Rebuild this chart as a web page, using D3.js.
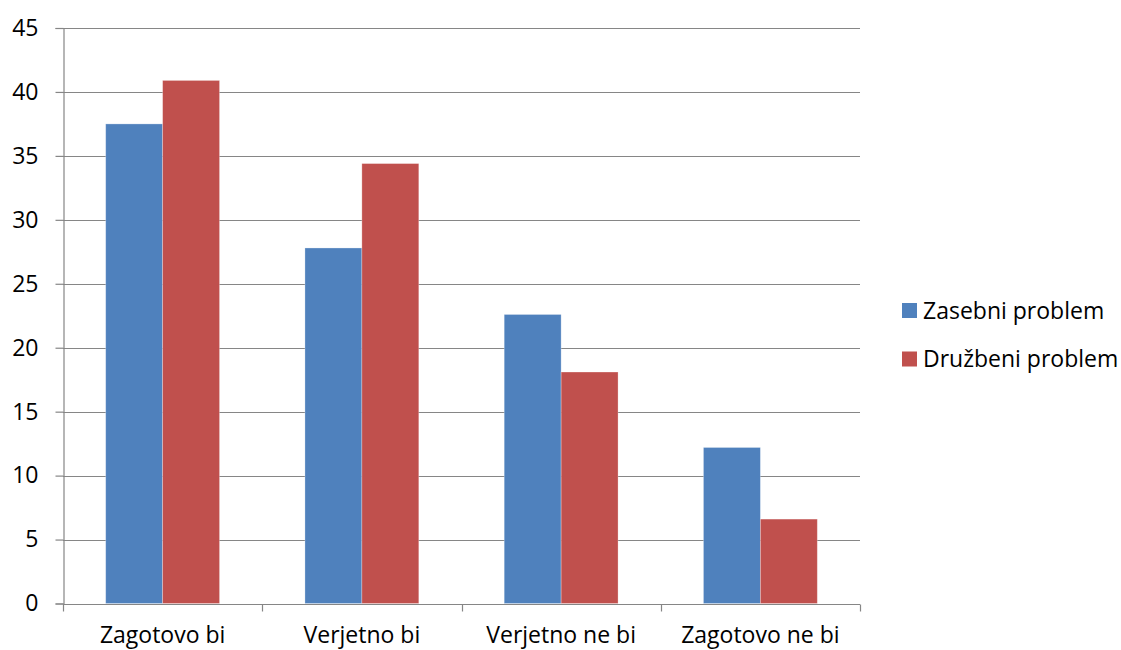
<!DOCTYPE html>
<html>
<head>
<meta charset="utf-8">
<script src="https://cdn.jsdelivr.net/npm/d3@7"></script>
<style>
  body { margin: 0; background: #fff; }
  text { font-family: "Open Sans", "Liberation Sans", sans-serif; fill: #000; }
</style>
</head>
<body>
<div id="chart"></div>
<script>
// data
var categories = ["Zagotovo bi", "Verjetno bi", "Verjetno ne bi", "Zagotovo ne bi"];
var seriesNames = ["Zasebni problem", "Družbeni problem"];
var zasebni = [37.5, 27.8, 22.6, 12.2];
var druzbeni = [40.9, 34.4, 18.1, 6.6];
var yTicks = [0, 5, 10, 15, 20, 25, 30, 35, 40, 45];
var colors = ["#4F81BD", "#C0504D"];

var width = 1121, height = 650;
var plot = {left: 63, right: 860, top: 28, bottom: 603.5};
var fontSize = "23px";

var svg = d3.select("#chart").append("svg")
  .attr("width", width).attr("height", height);

var x = d3.scaleBand().domain(categories).range([plot.left, plot.right]);
// Excel style: gap width 150% of one bar
var barW = x.bandwidth() / (2 + 1.5);
var y = d3.scaleLinear().domain([0, 45]).range([plot.bottom, plot.top]);

//gridlines
svg.append("g").selectAll("line").data(yTicks.filter(function(d){return d > 0;}))
  .enter().append("line")
  .attr("x1", plot.left).attr("x2", plot.right)
  .attr("y1", function(d){return Math.round(y(d)) + 0.5;})
  .attr("y2", function(d){return Math.round(y(d)) + 0.5;})
  .attr("stroke", "#868686").attr("stroke-width", 1.2);

//bars
var rows = categories.map(function(c, i){ return [zasebni[i], druzbeni[i]]; });
var groups = svg.append("g").selectAll("g").data(rows).enter().append("g")
  .attr("transform", function(d, i){ return "translate(" + x(categories[i]) + ",0)"; });
groups.selectAll("rect").data(function(d){ return d; }).enter().append("rect")
  .attr("x", function(d, j){ return barW * 0.75 + j * barW; })
  .attr("width", barW)
  .attr("y", function(d){ return y(d); })
  .attr("height", function(d){ return plot.bottom - y(d); })
  .attr("fill", function(d, j){ return colors[j]; })
  .attr("stroke", "#fff").attr("stroke-opacity", 0.35).attr("stroke-width", 0.8);

//y axis
var yAxis = svg.append("g").attr("transform", "translate(" + (plot.left + 0.5) + ",0)")
  .call(d3.axisLeft(y).tickValues(yTicks).tickSize(8).tickPadding(17));
yAxis.select(".domain").attr("stroke", "#868686").attr("stroke-width", 1.2);
yAxis.selectAll(".tick line").attr("stroke", "#868686").attr("stroke-width", 1.2);
yAxis.selectAll("text").style("font-size", fontSize).attr("fill", "#000");

//x axis with ticks between categories
var xg = svg.append("g").attr("transform", "translate(0," + (Math.round(plot.bottom) + 0.5) + ")");
xg.append("line").attr("x1", plot.left).attr("x2", plot.right)
  .attr("stroke", "#868686").attr("stroke-width", 1.2);
var edges = categories.map(function(c){ return x(c); }).concat([plot.right]);
xg.selectAll("line.tk").data(edges).enter().append("line").attr("class", "tk")
  .attr("x1", function(d){ return Math.round(d) + 0.5; })
  .attr("x2", function(d){ return Math.round(d) + 0.5; })
  .attr("y1", 0).attr("y2", 7)
  .attr("stroke", "#868686").attr("stroke-width", 1.2);
xg.selectAll("text").data(categories).enter().append("text")
  .attr("x", function(d){ return x(d) + x.bandwidth() / 2; })
  .attr("y", 38)
  .attr("text-anchor", "middle")
  .style("font-size", fontSize)
  .text(function(d){ return d; });

//legend
var legend = svg.append("g").attr("transform", "translate(902,303)");
var li = legend.selectAll("g").data(seriesNames).enter().append("g")
  .attr("transform", function(d, i){ return "translate(0," + (i * 48.5) + ")"; });
li.append("rect").attr("width", 15).attr("height", 15)
  .attr("fill", function(d, i){ return colors[i]; });
li.append("text").attr("x", 21).attr("y", 15.5)
  .style("font-size", fontSize)
  .text(function(d){ return d; });
</script>
</body>
</html>
